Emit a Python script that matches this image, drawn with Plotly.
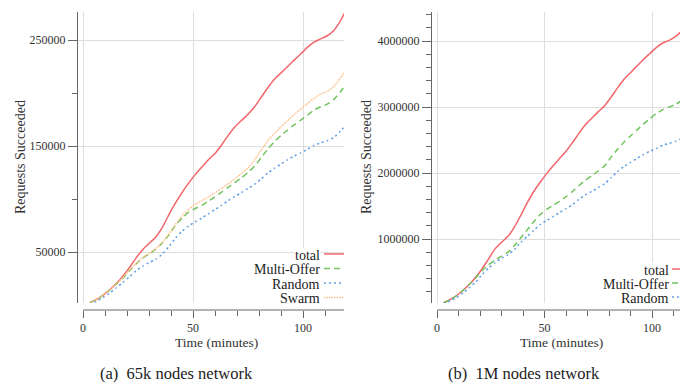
import plotly.graph_objects as go

# The page body adds an 8px offset, so the figure is 8px smaller and all
# reference pixel positions are shifted by that offset.
OFF = 8
W, H = 688 - OFF, 386 - OFF

# ---------------- data ----------------
minutes = [3, 6, 9, 12, 15, 18, 21, 24, 27, 30, 33, 36, 39, 42, 45, 48, 51, 54, 57, 60,
           63, 66, 69, 72, 75, 78, 81, 84, 87, 90, 93, 96, 99, 102, 105, 108, 111, 114, 117, 120]

total_65k = [2000, 5000, 9000, 14000, 20000, 27000, 35000, 44000, 52000, 58000,
             64000, 73000, 85000, 96000, 106000, 115000, 123000, 130000, 137000, 143000,
             151000, 160000, 168000, 174000, 180000, 187000, 196000, 205000, 213000, 219000,
             225000, 231000, 237000, 243000, 248000, 251000, 254000, 259000, 268000, 280000]
multi_65k = [2000, 5000, 9000, 14000, 19500, 25000, 32000, 38500, 44000, 48000,
             52500, 58500, 66000, 75000, 82000, 87500, 91000, 94000, 98000, 102000,
             106500, 111000, 115500, 120000, 125000, 131000, 139000, 147000, 154000, 160000,
             165000, 170000, 174500, 179000, 184000, 187000, 189500, 194000, 201000, 210000]
random_65k = [1000, 3500, 7000, 11000, 16000, 21000, 26500, 32000, 36500, 40000,
              43000, 48000, 55000, 63000, 69500, 74500, 78500, 82000, 86000, 90000,
              94000, 98500, 102500, 106000, 110000, 114000, 119000, 124500, 129000, 133000,
              137000, 140500, 143500, 147000, 150500, 153000, 155000, 158000, 164000, 171000]
swarm_65k = [2000, 5000, 9000, 14000, 19500, 25500, 32500, 39000, 44500, 48500,
             53000, 59000, 67000, 76000, 84000, 90000, 95000, 98500, 102000, 106000,
             110000, 114500, 119000, 124000, 129500, 137000, 146000, 155000, 162000, 168000,
             174000, 179500, 185000, 190000, 195000, 199000, 201500, 206000, 214000, 224000]

total_1m = [30000, 80000, 140000, 220000, 310000, 420000, 550000, 700000, 850000, 950000,
            1040000, 1180000, 1360000, 1550000, 1720000, 1860000, 1990000, 2110000, 2220000, 2330000,
            2460000, 2600000, 2730000, 2830000, 2930000, 3020000, 3150000, 3290000, 3420000, 3520000,
            3620000, 3720000, 3810000, 3900000, 3970000, 4010000, 4070000, 4160000, 4300000, 4450000]
multi_1m = [30000, 80000, 140000, 220000, 310000, 410000, 520000, 610000, 680000, 740000,
            800000, 900000, 1020000, 1140000, 1260000, 1370000, 1450000, 1510000, 1570000, 1640000,
            1720000, 1810000, 1890000, 1960000, 2030000, 2110000, 2240000, 2360000, 2470000, 2560000,
            2650000, 2740000, 2820000, 2900000, 2960000, 3000000, 3040000, 3110000, 3250000, 3400000]
random_1m = [20000, 60000, 110000, 180000, 260000, 350000, 460000, 560000, 640000, 710000,
             760000, 840000, 950000, 1040000, 1130000, 1220000, 1280000, 1340000, 1400000, 1460000,
             1520000, 1600000, 1670000, 1720000, 1780000, 1840000, 1930000, 2020000, 2100000, 2160000,
             2220000, 2280000, 2330000, 2370000, 2420000, 2450000, 2480000, 2530000, 2630000, 2730000]

x_ticks = [0, 50, 100]
y_ticks_65k = [50000, 150000, 250000]
y_ticks_1m = [1000000, 2000000, 3000000, 4000000]
captions = ["(a)  65k nodes network", "(b)  1M nodes network"]

# ---------------- styles ----------------
FONT = "Liberation Serif"
C_TOTAL = "#f2666b"
C_MULTI = "#72c45e"
C_RANDOM = "#5f9fe3"
C_SWARM = "#ffc28e"
styles = {
    "total": dict(color=C_TOTAL, width=1.5, dash="solid"),
    "Multi-Offer": dict(color=C_MULTI, width=1.5, dash="6px,4px"),
    "Random": dict(color=C_RANDOM, width=1.5, dash="2px,3px"),
    "Swarm": dict(color=C_SWARM, width=1.5, dash="1.5px,1px"),
}

def px_x(p):
    return (p - OFF) / W

def px_y(p):
    return 1 - (p - OFF) / H

fig = go.Figure()

left = [("total", total_65k), ("Multi-Offer", multi_65k), ("Random", random_65k), ("Swarm", swarm_65k)]
right = [("total", total_1m), ("Multi-Offer", multi_1m), ("Random", random_1m)]

for name, vals in left:
    fig.add_trace(go.Scatter(x=minutes, y=vals, mode="lines", name=name, showlegend=False,
                             line=dict(shape="spline", smoothing=0.6, **styles[name]),
                             xaxis="x", yaxis="y"))
for name, vals in right:
    fig.add_trace(go.Scatter(x=minutes, y=vals, mode="lines", name=name, showlegend=False,
                             line=dict(shape="spline", smoothing=0.6, **styles[name]),
                             xaxis="x2", yaxis="y2"))

GRID = "#dedede"
AXC = "#666666"
tickfont = dict(family=FONT, size=12, color="#333333")

common_x = dict(showline=False, ticks="outside", ticklen=7, tickcolor=AXC, tickwidth=1,
                showgrid=True, gridcolor=GRID, gridwidth=1, zeroline=False,
                tickvals=x_ticks, tickformat="d", tickfont=tickfont, anchor="free",
                ticklabelstandoff=0,
                minor=dict(dtick=10, tick0=0, ticks="outside", ticklen=5, tickcolor=AXC, showgrid=False))
common_y = dict(showline=True, linecolor=AXC, linewidth=1, ticks="outside", ticklen=9,
                tickcolor=AXC, tickwidth=1, showgrid=True, gridcolor=GRID, gridwidth=1,
                zeroline=False, tickfont=tickfont, tickformat="d", anchor="free", ticklabelstandoff=0)

# panel geometry (reference pixels)
L_ax, L_right, L_x0px, L_ppm = 77, 344, 83, 2.2
R_ax, R_right, R_x0px, R_ppm = 431, 688, 437, 2.15
Y_top, Y_bot, Y_zero, XAXIS_Y = 12, 303, 305, 310
L_ppv = 106 / 100000
R_ppv = 66 / 1000000

fig.update_layout(
    width=W, height=H, autosize=False,
    margin=dict(l=0, r=0, t=0, b=0),
    paper_bgcolor="white", plot_bgcolor="white",
    font=dict(family=FONT, color="#333333"),
    xaxis=dict(domain=[px_x(L_ax), px_x(L_right)],
               range=[(L_ax - L_x0px) / L_ppm, (L_right - L_x0px) / L_ppm],
               position=px_y(XAXIS_Y), **common_x),
    yaxis=dict(domain=[px_y(Y_bot), px_y(Y_top)],
               range=[(Y_zero - Y_bot) / L_ppv, (Y_zero - Y_top) / L_ppv],
               position=px_x(L_ax), tickvals=y_ticks_65k,
               minor=dict(dtick=50000, tick0=0, ticks="outside", ticklen=5, tickcolor=AXC, showgrid=False),
               **common_y),
    xaxis2=dict(domain=[px_x(R_ax), px_x(R_right)],
                range=[(R_ax - R_x0px) / R_ppm, (R_right - R_x0px) / R_ppm],
                position=px_y(XAXIS_Y), **common_x),
    yaxis2=dict(domain=[px_y(Y_bot), px_y(Y_top)],
                range=[(Y_zero - Y_bot) / R_ppv, (Y_zero - Y_top) / R_ppv],
                position=px_x(R_ax), tickvals=y_ticks_1m,
                minor=dict(dtick=200000, tick0=0, ticks="outside", ticklen=5, tickcolor=AXC, showgrid=False),
                **common_y),
)

shapes = []
annotations = []
# offset x-axis lines (starting at x=0)
for xref, ax_px, right_px, x0px in (("x", L_ax, L_right, L_x0px), ("x2", R_ax, R_right, R_x0px)):
    shapes.append(dict(type="line", xref=xref + " domain", yref="paper",
                       x0=(x0px - ax_px) / (right_px - ax_px), x1=1,
                       y0=px_y(XAXIS_Y), y1=px_y(XAXIS_Y),
                       line=dict(color=AXC, width=1)))

# axis titles
for cx, cy in ((20, 157), (366, 157)):
    annotations.append(dict(text="Requests Succeeded", x=px_x(cx), y=px_y(cy), xref="paper", yref="paper",
                            textangle=-90, showarrow=False, font=dict(family=FONT, size=14, color="#333333"),
                            xanchor="center", yanchor="middle"))
for cx in (216, 561):
    annotations.append(dict(text="Time (minutes)", x=px_x(cx), y=px_y(342), xref="paper", yref="paper",
                            showarrow=False, font=dict(family=FONT, size=13.5, color="#333333"),
                            xanchor="center", yanchor="middle"))
for cap, cx in zip(captions, (176, 524)):
    annotations.append(dict(text=cap, x=px_x(cx), y=px_y(373), xref="paper", yref="paper",
                            showarrow=False, font=dict(family=FONT, size=16.5, color="#222222"),
                            xanchor="center", yanchor="middle"))

# legends (text right-aligned, sample line on the right)
leg_left = [("total", 255), ("Multi-Offer", 269.5), ("Random", 284), ("Swarm", 298.5)]
leg_right = [("total", 270), ("Multi-Offer", 284), ("Random", 298)]
for entries, txt_right, s0, s1 in ((leg_left, 321, 324, 344), (leg_right, 670, 672, 688)):
    for name, yy in entries:
        annotations.append(dict(text=name, x=px_x(txt_right), y=px_y(yy), xref="paper", yref="paper",
                                showarrow=False, xanchor="right", yanchor="middle",
                                bgcolor="white", borderpad=0,
                                font=dict(family=FONT, size=14, color="#222222")))
        st = styles[name]
        shapes.append(dict(type="line", xref="paper", yref="paper",
                           x0=px_x(s0), x1=px_x(s1), y0=px_y(yy - 1), y1=px_y(yy - 1),
                           line=dict(color=st["color"], width=st["width"], dash=st["dash"])))

fig.update_layout(shapes=shapes, annotations=annotations)
fig.write_html("out.html")
